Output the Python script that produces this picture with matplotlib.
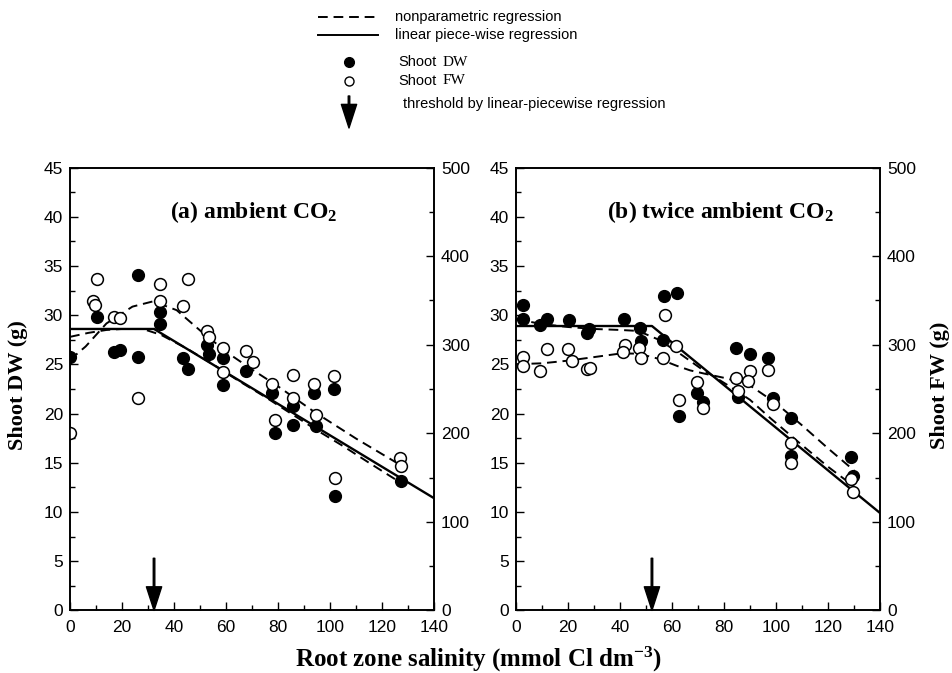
import matplotlib
matplotlib.use('Agg')
from matplotlib import pyplot as plt
from matplotlib.ticker import MultipleLocator

plt.rcParams['font.family'] = ['Liberation Sans', 'DejaVu Sans']
plt.rcParams['mathtext.fontset'] = 'custom'
plt.rcParams['mathtext.rm'] = 'Liberation Serif:bold'
plt.rcParams['mathtext.default'] = 'rm'
SERIF = ['Liberation Serif', 'DejaVu Serif']

# ---- (a) ambient CO2 ----
a_dw_x = [0, 10.5, 16.9, 19.2, 26, 26.3, 34.6, 34.6, 43.6, 45.5, 52.6, 53.6,
          59, 58.7, 67.7, 77.6, 78.8, 85.9, 85.9, 93.8, 94.6, 101.5, 101.9, 127.2]
a_dw_y = [25.8, 29.8, 26.3, 26.5, 34.1, 25.8, 30.3, 29.1, 25.7, 24.5, 27.0, 26.1,
          25.7, 22.9, 24.3, 22.1, 18.0, 20.8, 18.8, 22.1, 18.7, 22.5, 11.6, 13.1]
a_fw_x = [0, 9, 9.5, 10.5, 17, 19.2, 26.3, 34.6, 34.6, 45.5, 43.6, 52.6, 53.6, 58.7,
          59, 67.7, 70.3, 77.6, 78.8, 85.9, 85.9, 93.8, 94.6, 101.5, 101.9, 126.9, 127.2]
a_fw_y = [200, 349, 345, 374, 331, 330, 240, 369, 349, 374, 344, 315, 309, 296,
          269, 293, 280, 256, 215, 266, 240, 256, 221, 265, 149, 172, 163]
a_seg_x = [0, 32.3, 140]
a_seg_y = [28.6, 28.6, 11.4]
a_np_dw_x = [0, 7, 14, 20, 28, 35, 45, 55, 65, 75, 85, 95, 105, 115, 127]
a_np_dw_y = [27.8, 28.2, 28.5, 28.6, 28.6, 28.0, 26.6, 25.0, 23.3, 21.7, 20.0, 18.3, 16.7, 15.0, 13.0]
a_np_fw_x = [0, 6, 14, 24, 32, 41, 52, 62, 70, 80, 94, 110, 126]
a_np_fw_y = [283, 298, 324, 343, 349, 339, 311, 288, 272, 253, 224, 194, 166]
a_thr = 32.3

# ---- (b) twice ambient CO2 ----
b_dw_x = [2.6, 2.6, 9.2, 11.8, 20.4, 27.4, 28.2, 41.5, 47.7, 48.2, 56.7, 57.0, 61.8,
          62.8, 69.7, 71.8, 84.6, 85.5, 90, 97, 98.9, 105.8, 105.8, 128.8, 129.7]
b_dw_y = [31.0, 29.6, 29.0, 29.6, 29.5, 28.2, 28.6, 29.6, 28.7, 27.4, 27.5, 31.9, 32.3,
          19.8, 22.1, 21.2, 26.7, 21.7, 26.1, 25.6, 21.6, 19.6, 15.7, 15.6, 13.7]
b_fw_x = [2.6, 2.6, 9.2, 11.8, 20.1, 21.4, 27.4, 28.5, 42.0, 41.3, 47.4, 48.1, 57.3, 56.7,
          61.5, 62.8, 69.7, 71.8, 84.6, 85.5, 90, 89.1, 97, 98.7, 105.8, 105.8, 128.8, 129.7]
b_fw_y = [286, 276, 270, 295, 295, 282, 273, 274, 300, 292, 296, 285, 333, 285,
          298, 238, 258, 228, 262, 248, 270, 259, 272, 233, 189, 167, 148, 134]
b_seg_x = [0, 52.3, 140]
b_seg_y = [28.9, 28.9, 9.9]
b_np_dw_x = [0, 10, 20, 30, 40, 47, 55, 63, 71, 82, 90, 98, 110, 120, 130]
b_np_dw_y = [29.6, 29.1, 28.8, 28.6, 28.5, 28.4, 27.5, 26.1, 24.6, 22.8, 21.4, 19.5, 16.8, 14.6, 12.6]
b_np_fw_x = [0, 10, 20, 30, 40, 47, 55, 62, 67, 73, 81, 90, 100, 110, 120, 130]
b_np_fw_y = [278, 279, 282, 286, 290, 290, 284, 276, 271, 267, 262, 254, 234, 209, 183, 158]
b_thr = 52.3

DASH = (5, 3)
TICK_FS = 12.5

fig = plt.figure(figsize=(9.53, 6.73), dpi=100)


def draw_panel(rect, dw_x, dw_y, fw_x, fw_y, seg_x, seg_y,
               np_dw_x, np_dw_y, np_fw_x, np_fw_y, thr, title, title_x):
    ax = fig.add_axes(rect)
    ax2 = ax.twinx()
    ax.set_xlim(0, 140)
    ax.set_ylim(0, 45)
    ax2.set_ylim(0, 500)

    ax.plot(seg_x, seg_y, color='k', lw=1.7)
    ax.plot(np_dw_x, np_dw_y, color='k', lw=1.4, dashes=DASH)
    ax2.plot(np_fw_x, np_fw_y, color='k', lw=1.4, dashes=DASH)
    ax.plot(dw_x, dw_y, 'o', ms=8.5, mfc='k', mec='k', mew=1)
    ax2.plot(fw_x, fw_y, 'o', ms=8.5, mfc='white', mec='k', mew=1.1)

    # threshold arrow
    ax.annotate('', xy=(thr, 0), xytext=(thr, 5.3), annotation_clip=False,
                arrowprops=dict(facecolor='k', edgecolor='k', width=1.1,
                                headwidth=11, headlength=17, shrink=0))

    ax.text(title_x, 0.9, title, transform=ax.transAxes, ha='center', va='center',
            fontsize=17, family=SERIF, fontweight='bold')

    ax.xaxis.set_major_locator(MultipleLocator(20))
    ax.xaxis.set_minor_locator(MultipleLocator(10))
    ax.yaxis.set_major_locator(MultipleLocator(5))
    ax.yaxis.set_minor_locator(MultipleLocator(2.5))
    ax2.yaxis.set_major_locator(MultipleLocator(100))
    ax2.yaxis.set_minor_locator(MultipleLocator(50))
    for a in (ax, ax2):
        a.tick_params(which='both', direction='in', labelsize=TICK_FS, width=1)
        a.tick_params(which='major', length=6)
        a.tick_params(which='minor', length=3.5)
        for s in a.spines.values():
            s.set_linewidth(1.2)
    ax.tick_params(axis='x', pad=7)
    ax.tick_params(axis='y', pad=5)
    ax2.tick_params(axis='y', pad=5)
    return ax, ax2


draw_panel([0.0735, 0.093, 0.382, 0.658], a_dw_x, a_dw_y, a_fw_x, a_fw_y,
           a_seg_x, a_seg_y, a_np_dw_x, a_np_dw_y, a_np_fw_x, a_np_fw_y,
           a_thr, '(a) ambient CO$_2$', 0.503)
draw_panel([0.5414, 0.093, 0.382, 0.658], b_dw_x, b_dw_y, b_fw_x, b_fw_y,
           b_seg_x, b_seg_y, b_np_dw_x, b_np_dw_y, b_np_fw_x, b_np_fw_y,
           b_thr, '(b) twice ambient CO$_2$', 0.563)

fig.text(18 / 953, 1 - 385 / 673, 'Shoot DW (g)', rotation=90, ha='center', va='center',
         fontsize=16, family=SERIF, fontweight='bold')
fig.text(940 / 953, 1 - 385 / 673, 'Shoot FW (g)', rotation=90, ha='center', va='center',
         fontsize=16, family=SERIF, fontweight='bold')
fig.text(478 / 953, 1 - 659 / 673, 'Root zone salinity (mmol Cl dm$^{-3}$)',
         ha='center', va='center', fontsize=18, family=SERIF, fontweight='bold')

# legend block at the top, in pixel coordinates
lg = fig.add_axes([0, 0, 1, 1])
lg.set_xlim(0, 953)
lg.set_ylim(673, 0)
lg.axis('off')
lg.plot([318, 378], [17, 17], color='k', lw=1.4, dashes=DASH)
lg.text(395, 17, 'nonparametric regression', va='center', fontsize=10.5)
lg.plot([318, 378], [35, 35], color='k', lw=1.4)
lg.text(395, 35, 'linear piece-wise regression', va='center', fontsize=10.5)
lg.plot([349], [62], 'o', ms=7, mfc='k', mec='k')
lg.text(398, 62, 'Shoot', va='center', fontsize=10.5)
lg.text(443, 62, 'DW', va='center', fontsize=11, family=SERIF)
lg.plot([349], [81], 'o', ms=6.5, mfc='white', mec='k', mew=1)
lg.text(398, 81, 'Shoot', va='center', fontsize=10.5)
lg.text(443, 81, 'FW', va='center', fontsize=11, family=SERIF)
lg.annotate('', xy=(349, 128), xytext=(349, 96), annotation_clip=False,
            arrowprops=dict(facecolor='k', edgecolor='k', width=1.1,
                            headwidth=11, headlength=17, shrink=0))
lg.text(403, 104, 'threshold by linear-piecewise regression', va='center', fontsize=10.5)

fig.savefig('out.png', dpi=100)
